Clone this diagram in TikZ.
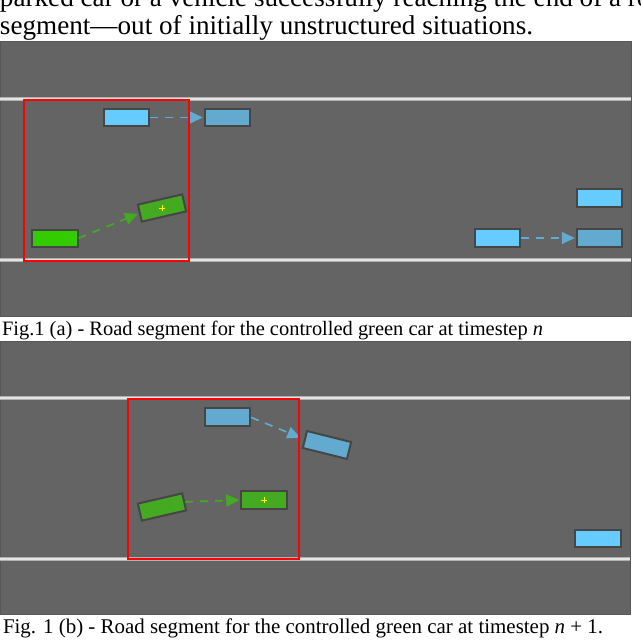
\documentclass[tikz,border=0pt]{standalone}
\usepackage{graphicx}
\usepackage{fontspec}
\setmainfont{Liberation Serif}
\usetikzlibrary{arrows.meta}
\definecolor{road}{HTML}{646464}
\definecolor{roadedge}{HTML}{575757}
\definecolor{lane}{HTML}{E4E4E4}
\definecolor{laneedge}{HTML}{B0B0B0}
\definecolor{carblue}{HTML}{66CCFF}
\definecolor{ghostblue}{HTML}{62AAD0}
\definecolor{cargreen}{HTML}{33CC00}
\definecolor{ghostgreen}{HTML}{44AA22}
\definecolor{caredge}{HTML}{464646}
\definecolor{boxred}{HTML}{FF0000}
\begin{document}
\begin{tikzpicture}[x=1pt,y=-1pt,
  car/.style={draw=caredge,line width=2pt,minimum width=45.5pt,minimum height=17.5pt,inner sep=0pt,outer sep=0pt},
  bluecar/.style={car,fill=carblue},
  ghostbluecar/.style={car,fill=ghostblue},
  greencar/.style={car,fill=cargreen},
  ghostgreencar/.style={car,fill=ghostgreen},
  move/.style={line width=1.7pt,dash pattern=on 8pt off 7pt,-{Triangle[length=13pt,width=12pt]},shorten >=2pt,shorten <=1pt},
  bluemove/.style={move,draw=ghostblue},
  greenmove/.style={move,draw=ghostgreen},
  redbox/.style={draw=boxred,line width=2.2pt},
  plusmark/.style={draw=yellow,line width=1pt},
  panel/.style={fill=road,draw=roadedge,line width=0.8pt},
  caption/.style={anchor=base west,inner sep=0pt,outer sep=0pt}
]
\useasboundingbox (0,0) rectangle (640,642);
\clip (0,0) rectangle (640,642);
\fill[white] (0,0) rectangle (640,642);

% top text (cut at the top edge, as in the reference)
\node[caption] (toptext) at (0,35) {\resizebox{533pt}{!}{\fontsize{27}{28}\selectfont\begin{tabular}[b]{@{}l@{}}\rlap{parked car or a vehicle successfully reaching the end of a road}\\segment—out of initially unstructured situations.\end{tabular}}};

% ---------- panel (a) ----------
\path[panel] (0,41) rectangle (631,316);
\foreach \yy in {99,260}{
  \draw[laneedge,line width=4pt] (0,\yy) -- (631,\yy);
  \draw[lane,line width=2pt] (0,\yy) -- (631,\yy);
}
\node[bluecar] (a1) at (126.5,117.5) {};
\node[ghostbluecar] (a1n) at (227.5,117.5) {};
\node[greencar] (ag) at (55,238.5) {};
\node[ghostgreencar,rotate=13] (agn) at (162,208) {};
\node[bluecar] (a2) at (599.5,198) {};
\node[bluecar] (a3) at (497.5,238) {};
\node[ghostbluecar] (a3n) at (599.5,238) {};
\draw[plusmark] (agn.center) ++(-3,0) -- ++(6,0) (agn.center) ++(0,-3) -- ++(0,6);
\draw[bluemove] (a1) -- (a1n);
\draw[bluemove] (a3) -- (a3n);
\draw[greenmove] (ag.east) -- (agn.west);
\draw[redbox] (24,100) rectangle (189,261);

\node[caption] (capa) at (2,335) {\resizebox{541pt}{!}{Fig.1 (a) - Road segment for the controlled green car at timestep \textit{n}}};

% ---------- panel (b) ----------
\path[panel] (0,341) rectangle (630,614);
\foreach \yy in {398,559}{
  \draw[laneedge,line width=4pt] (0,\yy) -- (630,\yy);
  \draw[lane,line width=2pt] (0,\yy) -- (630,\yy);
}
\node[ghostbluecar] (b1) at (227.5,417) {};
\node[ghostbluecar,rotate=-14] (b1n) at (327,445) {};
\node[ghostgreencar,rotate=13] (bg) at (162,507) {};
\node[ghostgreencar] (bgn) at (264,500) {};
\node[bluecar] (b2) at (598,538.5) {};
\draw[plusmark] (bgn.center) ++(-3,0) -- ++(6,0) (bgn.center) ++(0,-3) -- ++(0,6);
\draw[bluemove,shorten >=5pt] (b1.east) -- (b1n.west);
\draw[greenmove] (bg.east) -- (bgn.west);
\draw[redbox] (128,399) rectangle (299,559);

\node[caption] (capb) at (3,633) {\resizebox{600pt}{!}{Fig. 1 (b) - Road segment for the controlled green car at timestep \textit{n} + 1.}};
\end{tikzpicture}
\end{document}
